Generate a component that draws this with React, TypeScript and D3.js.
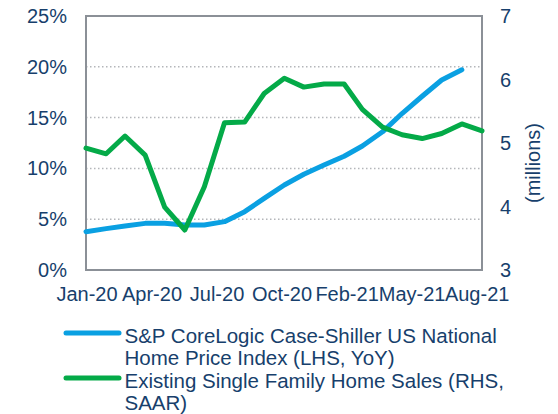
import React, { useEffect, useRef } from "react";
import * as d3 from "d3";

// monthly observations
const months = [
  "2020-01", "2020-02", "2020-03", "2020-04", "2020-05", "2020-06", "2020-07",
  "2020-08", "2020-09", "2020-10", "2020-11", "2020-12", "2021-01", "2021-02",
  "2021-03", "2021-04", "2021-05", "2021-06", "2021-07", "2021-08", "2021-09",
];

// S&P CoreLogic Case-Shiller US National HPI, YoY % (LHS)
const priceIndexYoY = [
  3.77, 4.07, 4.33, 4.59, 4.59, 4.43, 4.43, 4.76, 5.74, 7.05,
  8.37, 9.42, 10.33, 11.2, 12.2, 13.6, 15.4, 17.1, 18.7, 19.7,
];

// Existing single family home sales, SAAR millions (RHS)
const homeSales = [
  4.92, 4.83, 5.11, 4.81, 3.99, 3.63, 4.31, 5.32, 5.33, 5.78, 6.02,
  5.88, 5.93, 5.93, 5.53, 5.25, 5.13, 5.07, 5.15, 5.3, 5.19,
];

// date axis labels (every 100 days)
const xTicks = [
  "2020-01-01", "2020-04-10", "2020-07-19", "2020-10-27",
  "2021-02-04", "2021-05-15", "2021-08-23",
];
const leftTicks = [0, 5, 10, 15, 20, 25];
const rightTicks = [3, 4, 5, 6, 7];

const seriesNames = [
  ["S&P CoreLogic Case-Shiller US National", "Home Price Index (LHS, YoY)"],
  ["Existing Single Family Home Sales (RHS,", "SAAR)"],
];

const BLUE = "#0aa0e2";
const GREEN = "#04aa48";
const TEXT = "#173f6c";
const FONT = "'Liberation Sans', Arial, sans-serif";

const App = () => {
  const svgRef = useRef<SVGSVGElement>(null);

  useEffect(() => {
    const width = 558;
    const height = 414;
    const plot = { left: 86, right: 482, top: 16, bottom: 270 };

    const svg = d3.select(svgRef.current);
    svg.selectAll("*").remove();
    svg.attr("width", width).attr("height", height);

    const parseMonth = d3.timeParse("%Y-%m");
    const parseDay = d3.timeParse("%Y-%m-%d");
    const dates = months.map((m) => parseMonth(m) as Date);

    const x = d3
      .scaleTime()
      .domain([dates[0], dates[dates.length - 1]])
      .range([plot.left, plot.right]);

    const yLeft = d3.scaleLinear().domain([0, 25]).range([plot.bottom, plot.top]);
    const yRight = d3.scaleLinear().domain([3, 7]).range([plot.bottom, plot.top]);

    // gridlines
    svg.append("g")
      .selectAll("line")
      .data(leftTicks.slice(1, -1))
      .enter()
      .append("line")
      .attr("x1", plot.left)
      .attr("x2", plot.right)
      .attr("y1", (d) => yLeft(d))
      .attr("y2", (d) => yLeft(d))
      .attr("stroke", "#b4b6ba")
      .attr("stroke-width", 1.5)
      .attr("stroke-dasharray", "1.5,2.5");

    // frame
    svg.append("rect")
      .attr("x", plot.left)
      .attr("y", plot.top)
      .attr("width", plot.right - plot.left)
      .attr("height", plot.bottom - plot.top)
      .attr("fill", "none")
      .attr("stroke", "#8b9097")
      .attr("stroke-width", 2);

    const blueLine = d3
      .line<number>()
      .x((_, i) => x(dates[i]))
      .y((d) => yLeft(d));

    const greenLine = d3
      .line<number>()
      .x((_, i) => x(dates[i]))
      .y((d) => yRight(d));

    svg.append("path")
      .datum(priceIndexYoY)
      .attr("d", blueLine)
      .attr("fill", "none")
      .attr("stroke", BLUE)
      .attr("stroke-width", 5)
      .attr("stroke-linejoin", "round")
      .attr("stroke-linecap", "round");

    svg.append("path")
      .datum(homeSales)
      .attr("d", greenLine)
      .attr("fill", "none")
      .attr("stroke", GREEN)
      .attr("stroke-width", 5)
      .attr("stroke-linejoin", "round")
      .attr("stroke-linecap", "round");

    const text = svg.append("g")
      .attr("font-family", FONT)
      .attr("font-size", 20)
      .attr("fill", TEXT);

    // left axis labels
    text.selectAll(".yl")
      .data(leftTicks)
      .enter()
      .append("text")
      .attr("x", 67)
      .attr("y", (d) => yLeft(d) + 7)
      .attr("text-anchor", "end")
      .text((d) => `${d}%`);

    // right axis labels
    text.selectAll(".yr")
      .data(rightTicks)
      .enter()
      .append("text")
      .attr("x", 500)
      .attr("y", (d) => yRight(d) + 7)
      .text((d) => d);

    text.append("text")
      .attr("transform", `translate(533,163) rotate(-90)`)
      .attr("text-anchor", "middle")
      .attr("dominant-baseline", "central")
      .text("(millions)");

    // x axis labels
    const fmt = d3.timeFormat("%b-%y");
    text.selectAll(".xl")
      .data(xTicks.map((d) => parseDay(d) as Date))
      .enter()
      .append("text")
      .attr("x", (d) => x(d) + 1)
      .attr("y", 301)
      .attr("text-anchor", "middle")
      .text((d) => fmt(d));

    // legend
    const legendColors = [BLUE, GREEN];
    const legendY = [333, 378];
    seriesNames.forEach((lines, i) => {
      svg.append("line")
        .attr("x1", 66)
        .attr("x2", 119)
        .attr("y1", legendY[i])
        .attr("y2", legendY[i])
        .attr("stroke", legendColors[i])
        .attr("stroke-width", 5)
        .attr("stroke-linecap", "round");
      lines.forEach((line, j) => {
        text.append("text")
          .attr("x", 124.5)
          .attr("y", legendY[i] + 10 + j * 21.5)
          .attr("font-size", 20.5)
          .text(line);
      });
    });
  }, []);

  return (
    <svg ref={svgRef} style={{ position: "absolute", left: 0, top: 0 }}></svg>
  );
};

export default App;
